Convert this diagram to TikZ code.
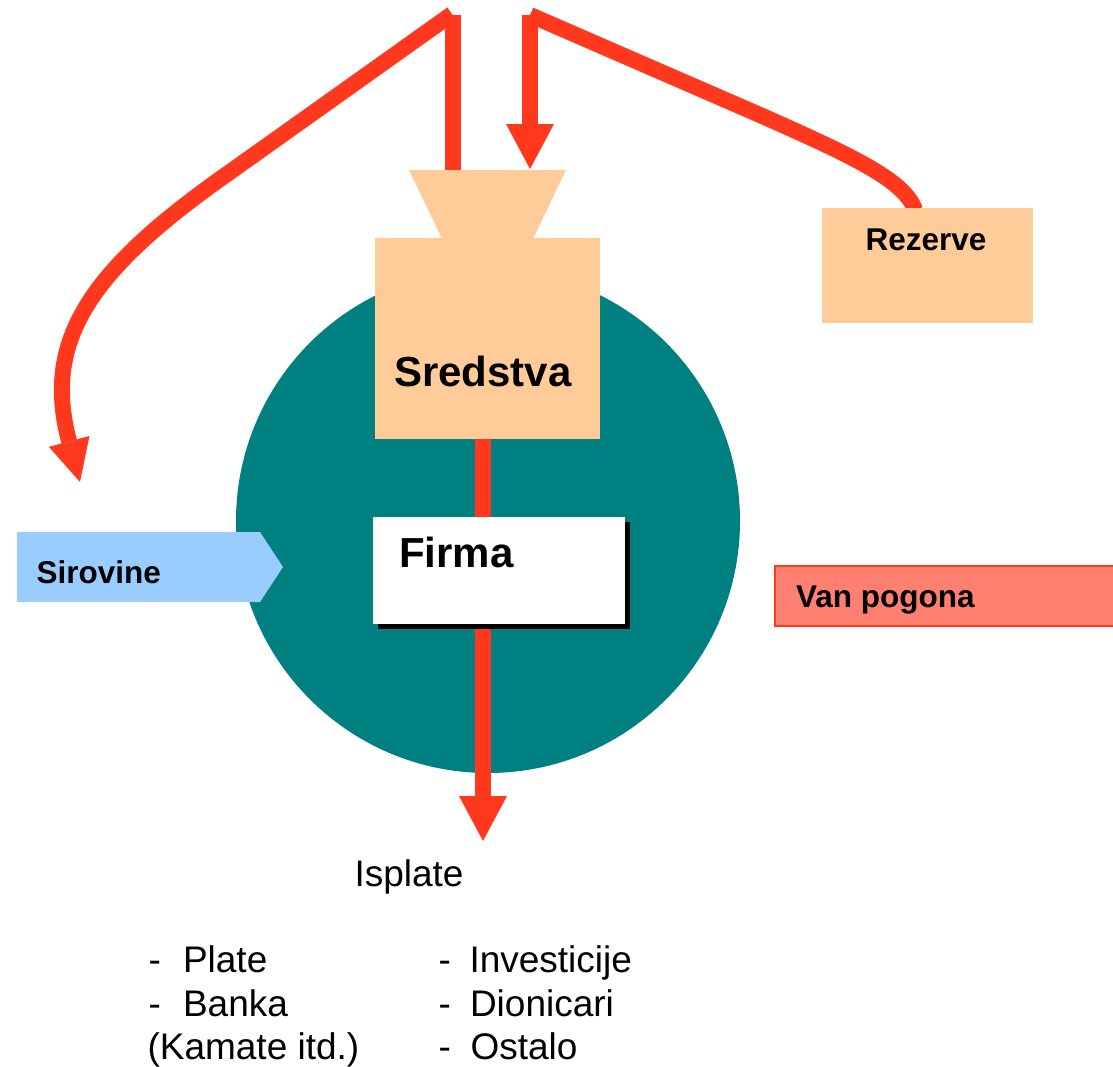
\documentclass[tikz,border=0pt]{standalone}
\usepackage{fontspec}
\setmainfont{Liberation Sans}
\usetikzlibrary{arrows.meta}
\definecolor{flowred}{RGB}{255,56,30}
\definecolor{tealc}{RGB}{0,128,128}
\definecolor{peach}{RGB}{255,204,153}
\definecolor{skyblue}{RGB}{153,204,255}
\definecolor{salmon}{RGB}{255,128,112}
\begin{document}
\begin{tikzpicture}[x=1pt,y=-1pt,
  flow/.style={draw=flowred, line width=16pt},
  bigtip/.style={-{Triangle[length=45pt,width=48pt,line width=0pt]}},
  smalltip/.style={-{Triangle[length=42pt,width=42pt,line width=0pt]}},
  lbl/.style={inner sep=0pt, outer sep=0pt, anchor=base west},
  boldlbl/.style={lbl, font=\fontsize{31.5}{36}\selectfont\bfseries},
  biglbl/.style={lbl, font=\fontsize{42}{48}\selectfont\bfseries},
  plainlbl/.style={lbl, font=\fontsize{37}{42}\selectfont},
  block/.style={inner sep=0pt, outer sep=0pt, draw=none},
]
\useasboundingbox (0,0) rectangle (1113,1066);

% firm circle
\node[circle, block, fill=tealc, minimum size=504pt] (firmcircle) at (488,521) {};

% boxes
\node[block, fill=peach, minimum width=225pt, minimum height=201pt] (sred) at (487.5,338.5) {};

% coordinates for connectors
\coordinate (topL) at (453,15);
\coordinate (topLd) at (452,14);
\coordinate (topR) at (530,15);
\coordinate (funL) at (453,172);
\coordinate (funR) at (530,169);
\coordinate (sirTip) at (80,482);
\coordinate (rezIn) at (915,210);
\coordinate (outTip) at (483,841);

% output arrow
\draw[flow, bigtip] (sred.south -| outTip) -- (outTip);

% top connectors
\draw[flow] (funL) -- (topL);
\draw[flow, smalltip] (topLd) -- (230,172) .. controls (90,270) and (42,340) .. (sirTip);
\draw[flow, bigtip] (topR) -- (funR);
\draw[flow] (topR) -- (760,115) .. controls (850,155) and (905,180) .. (rezIn);

% funnel
\fill[peach] (409,170) -- (566,170) -- (533,239) -- (442,239) -- cycle;

% Rezerve
\node[block, fill=peach, minimum width=211pt, minimum height=115pt] (rez) at (927.5,265.5) {};

% Firma box with shadow
\node[block, fill=black, minimum width=252pt, minimum height=107pt] (firmashadow) at (504,575.5) {};
\node[block, fill=white, minimum width=252pt, minimum height=107pt] (firma) at (499,570.5) {};

% Sirovine arrow
\fill[skyblue] (17,532) -- (260,532) -- (283,567) -- (260,602) -- (17,602) -- cycle;

% Van pogona
\path[fill=salmon, draw=flowred, line width=1.5pt] (775,566) rectangle (1125,626);

% labels
\node[biglbl] (sredtxt) at (394,386) {Sredstva};
\node[biglbl] (firmatxt) at (399,567) {Firma};
\node[boldlbl] (reztxt) at (865.5,250) {Rezerve};
\node[boldlbl] (sirtxt) at (36.5,583) {Sirovine};
\node[boldlbl] (vantxt) at (796,607) {Van pogona};
\node[plainlbl] (ispl) at (354.5,886) {Isplate};

\node[plainlbl] (d1) at (148.5,972) {-};
\node[plainlbl] (w1) at (183,972) {Plate};
\node[plainlbl] (d2) at (148.5,1016) {-};
\node[plainlbl] (w2) at (183,1016) {Banka};
\node[plainlbl] (w3) at (147.5,1059) {(Kamate itd.)};

\node[plainlbl] (d4) at (438.5,972) {-};
\node[plainlbl] (w4) at (469.5,972) {Investicije};
\node[plainlbl] (d5) at (438.5,1016) {-};
\node[plainlbl] (w5) at (470,1016) {Dionicari};
\node[plainlbl] (d6) at (438.5,1059) {-};
\node[plainlbl] (w6) at (470.5,1059) {Ostalo};
\end{tikzpicture}
\end{document}
